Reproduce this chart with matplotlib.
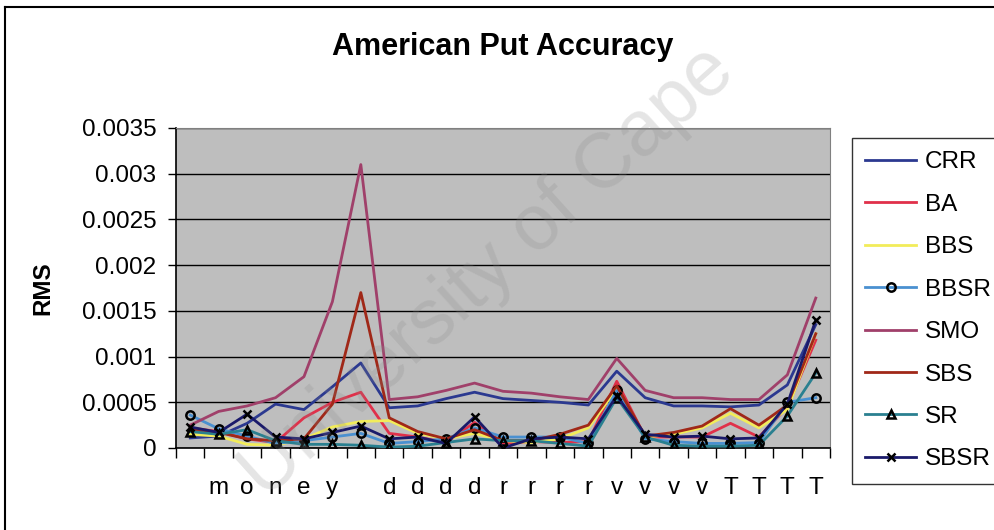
import matplotlib
matplotlib.use("Agg")
import matplotlib.pyplot as plt
from matplotlib.lines import Line2D

plt.rcParams['font.family'] = ['Liberation Sans', 'DejaVu Sans']

categories = ["", "m", "o", "n", "e", "y", "", "d", "d", "d", "d",
              "r", "r", "r", "r", "v", "v", "v", "v", "T", "T", "T", "T"]

CRR = [0.00011, 0.00013, 0.00027, 0.00048, 0.00042, 0.00067, 0.00093, 0.00044, 0.00046, 0.00054, 0.00061,
       0.00054, 0.00052, 0.00050, 0.00047, 0.00084, 0.00055, 0.00046, 0.00046, 0.00045, 0.00047, 0.00069, 0.00135]
BA = [0.00022, 0.00018, 0.00010, 0.00006, 0.00033, 0.00050, 0.00061, 0.00016, 0.00012, 0.00006, 0.00028,
      0.00005, 0.00007, 0.00006, 0.00007, 0.00073, 0.00012, 0.00012, 0.00012, 0.00027, 0.00012, 0.00045, 0.00118]
BBS = [0.00015, 0.00013, 0.00004, 0.00003, 0.00010, 0.00023, 0.00029, 0.00030, 0.00016, 0.00010, 0.00016,
       0.00008, 0.00006, 0.00010, 0.00022, 0.00065, 0.00012, 0.00015, 0.00022, 0.00038, 0.00022, 0.00042, 0.00125]
BBSR = [0.00036, 0.00021, 0.00013, 0.00005, 0.00008, 0.00012, 0.00016, 0.00005, 0.00007, 0.00010, 0.00022,
        0.00012, 0.00012, 0.00012, 0.00005, 0.00063, 0.00010, 0.00007, 0.00005, 0.00005, 0.00006, 0.00050, 0.00055]
SMO = [0.00025, 0.00040, 0.00046, 0.00055, 0.00078, 0.00160, 0.00310, 0.00053, 0.00056, 0.00063, 0.00071,
       0.00062, 0.00060, 0.00056, 0.00053, 0.00098, 0.00063, 0.00055, 0.00055, 0.00053, 0.00053, 0.00080, 0.00164]
SBS = [0.00020, 0.00017, 0.00010, 0.00008, 0.00010, 0.00048, 0.00170, 0.00033, 0.00018, 0.00010, 0.00020,
       0.00008, 0.00008, 0.00015, 0.00025, 0.00068, 0.00013, 0.00017, 0.00024, 0.00043, 0.00025, 0.00047, 0.00125]
SR = [0.00018, 0.00015, 0.00020, 0.00008, 0.00004, 0.00004, 0.00003, 0.00001, 0.00002, 0.00006, 0.00010,
      0.00008, 0.00008, 0.00005, 0.00002, 0.00055, 0.00012, 0.00003, 0.00002, 0.00002, 0.00003, 0.00035, 0.00082]
SBSR = [0.00023, 0.00017, 0.00037, 0.00012, 0.00010, 0.00017, 0.00024, 0.00010, 0.00012, 0.00005, 0.00034,
        0.00000, 0.00010, 0.00012, 0.00010, 0.00057, 0.00015, 0.00012, 0.00013, 0.00010, 0.00011, 0.00048, 0.00140]

series = [
    ("CRR", CRR, "#2B3990", None),
    ("BA", BA, "#E0304A", None),
    ("BBS", BBS, "#F2EC5A", None),
    ("BBSR", BBSR, "#4A90D0", "o"),
    ("SMO", SMO, "#A0406A", None),
    ("SBS", SBS, "#A02818", None),
    ("SR", SR, "#2A8090", "^"),
    ("SBSR", SBSR, "#1A1A6A", "x"),
]

fig = plt.figure(figsize=(9.95, 5.3), dpi=100)
ax = fig.add_axes([176/995, 1-448/530, (830-176)/995, (448-128)/530])
ax.set_facecolor("#BEBEBE")

x = list(range(len(categories)))
handles = []
for name, vals, color, mk in series:
    kw = dict(color=color, lw=2.0, zorder=3)
    if mk is not None:
        kw.update(marker=mk, markersize=6, markeredgecolor="black",
                  markerfacecolor="none", markeredgewidth=1.8)
    ln, = ax.plot(x, vals, label=name, **kw)
    handles.append(ln)

ax.set_xlim(-0.5, len(categories) - 0.5)
ax.set_ylim(0, 0.0035)
ax.set_yticks([0, 0.0005, 0.001, 0.0015, 0.002, 0.0025, 0.003, 0.0035])
ax.set_yticklabels(["0", "0.0005", "0.001", "0.0015", "0.002", "0.0025", "0.003", "0.0035"])
ax.yaxis.grid(True, color="black", lw=1.0)
ax.set_axisbelow(True)

ax.set_xticks([i - 0.5 for i in range(len(categories) + 1)])
ax.set_xticklabels([])
ax.set_xticks(x, minor=True)
ax.set_xticklabels(categories, minor=True)
ax.tick_params(axis="x", which="minor", length=0, pad=21, labelsize=17.5)
ax.tick_params(axis="x", which="major", length=7, width=1.0, direction="out")
ax.tick_params(axis="y", length=6, width=1.0, labelsize=17.5, pad=8)

for s in ["top", "right"]:
    ax.spines[s].set_color("#808080")
for s in ["left", "bottom"]:
    ax.spines[s].set_color("black")
    ax.spines[s].set_linewidth(1.2)

ax.set_ylabel("RMS", fontsize=17.5, fontweight="bold", labelpad=20)
fig.text(503/995, 1-47/530, "American Put Accuracy", ha="center", va="center",
         fontsize=22, fontweight="bold")

leg = fig.legend(handles=handles, loc="upper left", bbox_to_anchor=(852/995, 1-138/530),
                 fontsize=17.5, frameon=True, fancybox=False, edgecolor="black",
                 labelspacing=0.84, handlelength=2.1, handletextpad=0.35,
                 borderpad=0.55, borderaxespad=0)
leg.get_frame().set_linewidth(1.0)

# chart frame
fig.add_artist(Line2D([5/995, 5/995], [0, 1-7/530], color="black", lw=1.5, transform=fig.transFigure))
fig.add_artist(Line2D([5/995, 1], [1-7/530, 1-7/530], color="black", lw=1.5, transform=fig.transFigure))

# watermark
fig.text(488/995, 1-272/530, "University of Cape", rotation=42, ha="center", va="center",
         fontsize=56, color="#888888", alpha=0.22, zorder=10)

fig.savefig("out.png", dpi=100)
